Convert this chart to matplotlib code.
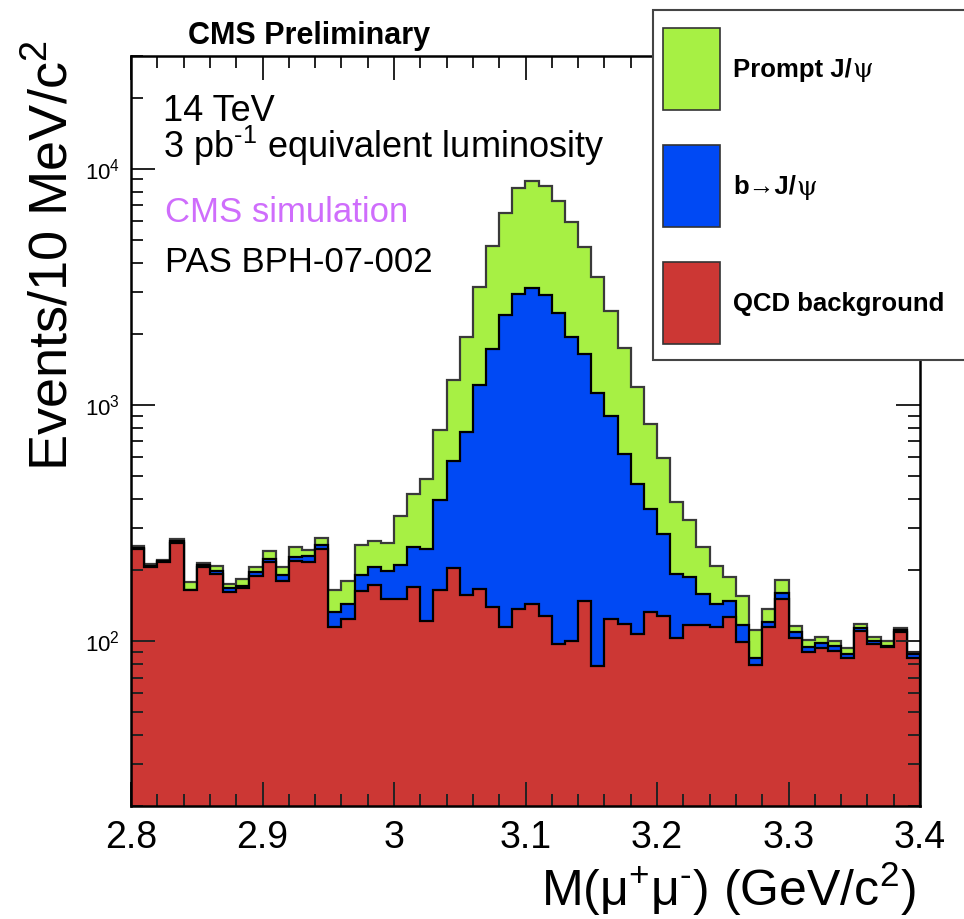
import numpy as np
import matplotlib.pyplot as plt
from matplotlib.patches import Rectangle
from matplotlib.ticker import MultipleLocator, LogLocator, NullFormatter, FuncFormatter

plt.rcParams['font.family'] = ['Liberation Sans', 'DejaVu Sans']
plt.rcParams['mathtext.fontset'] = 'custom'
plt.rcParams['mathtext.rm'] = 'Liberation Sans'
plt.rcParams['mathtext.it'] = 'Liberation Sans:italic'
plt.rcParams['mathtext.bf'] = 'Liberation Sans:bold'

W, H = 964, 919

# dimuon mass window, 10 MeV bins
mass_lo, mass_hi, n_bins = 2.8, 3.4, 60

# events per bin for each sample
qcd = [245, 206, 215, 260, 164, 206, 193, 161, 167, 188,
       215, 179, 219, 215, 246, 115, 124, 163, 172, 151,
       151, 170, 121, 165, 203, 156, 166, 139, 115, 136,
       143, 127, 97, 100, 148, 78, 124, 118, 107, 133,
       127, 103, 117, 117, 115, 126, 99, 79, 115, 151,
       103, 90, 93, 91, 85, 110, 97, 94, 109, 84.5]
b_jpsi = [3, 2, 2, 5, 1, 3, 5, 6, 4, 8,
          7, 12, 7, 14, 10, 17, 20, 28, 34, 47,
          59, 79, 123, 230, 374, 611, 1043, 1578, 2274, 2817,
          2987, 2777, 2348, 1836, 1498, 1049, 773, 498, 353, 228,
          156, 90, 70, 41, 28, 21, 18, 6, 5, 8,
          6, 4, 5, 4, 3, 4, 3, 1.5, 2, 3.5]
prompt = [5, 3, 3, 6, 12, 5, 10, 8, 12, 10,
          19, 15, 24, 14, 17, 33, 36, 64, 60, 63,
          128, 172, 239, 390, 693, 1169, 1941, 2977, 4106, 5302,
          5710, 5571, 4830, 3994, 3031, 2343, 1596, 1123, 729, 466,
          313, 193, 138, 92, 65, 40, 38, 26, 17, 22,
          7, 7, 6, 5, 5, 4, 4, 4.5, 2.5, 2]

labels = ['Prompt J/', 'b→J/', 'QCD background']
label_psi = [True, True, False]
colors = ['#a7f044', '#0049f4', '#cc3734']
edge_colors = ['#3a3a3a', 'black', 'black']

edges = np.linspace(mass_lo, mass_hi, n_bins + 1)
red = np.array(qcd, float)
blue = red + np.array(b_jpsi)
green = blue + np.array(prompt)


def fx(x):
    return x / W


def fy(y):
    return 1 - y / H


fig = plt.figure(figsize=(W / 100, H / 100), dpi=100)
ax = fig.add_axes([fx(131), fy(806), (920 - 131) / W, (806 - 56) / H])
ax.set_yscale('log')

# stacked: draw the cumulative sums from the top layer down
for vals, c, ec in zip([green, blue, red], colors, edge_colors):
    ax.stairs(vals, edges, baseline=1, fill=True, facecolor=c,
              edgecolor=ec, linewidth=1.6)

ax.set_xlim(mass_lo, mass_hi)
ax.set_ylim(20, 30000)

ax.xaxis.set_major_locator(MultipleLocator(0.1))
ax.xaxis.set_minor_locator(MultipleLocator(0.02))
ax.xaxis.set_major_formatter(FuncFormatter(lambda v, p: '%g' % round(v, 2)))
ax.yaxis.set_major_locator(LogLocator(base=10))
ax.yaxis.set_minor_locator(LogLocator(base=10, subs=np.arange(2, 10)))
ax.yaxis.set_minor_formatter(NullFormatter())

ax.tick_params(which='both', direction='in', top=True, right=True, width=1.4, color='#222')
ax.tick_params(which='major', length=17)
ax.tick_params(which='minor', length=8.5)
ax.tick_params(axis='x', labelsize=27, pad=10)
ax.tick_params(axis='y', labelsize=16, pad=8)
for s in ax.spines.values():
    s.set_linewidth(1.8)

fig.text(fx(916), fy(906), r'M(μ$^{+}$μ$^{\text{-}}$) (GeV/c$^{2}$)', ha='right', va='baseline', fontsize=36)
fig.text(fx(53), fy(40), 'Events/10 MeV/c$^{2}$', rotation=90, ha='center', va='top', fontsize=39)

fig.text(fx(188), fy(44), 'CMS Preliminary', ha='left', va='baseline', fontsize=22, fontweight='bold')

# the two tight lines as one text block (anchored on the last baseline)
fig.text(fx(163), fy(158), '14 TeV\n' + r'3 pb$^{\text{-1}}$ equivalent luminosity',
         ha='left', va='baseline', fontsize=26, linespacing=0.86)
fig.text(fx(165), fy(222), 'CMS simulation', ha='left', va='baseline', fontsize=25, color='#cf6dfc')
fig.text(fx(165), fy(272), 'PAS BPH-07-002', ha='left', va='baseline', fontsize=25)

# legend box, partly outside the frame like the original
fig.add_artist(Rectangle((fx(653), fy(360)), (990 - 653) / W, 350 / H, transform=fig.transFigure,
                         facecolor='white', edgecolor='#444', linewidth=1.5, zorder=5))
box_tops = [28, 145, 262]
for lab, psi, c, top in zip(labels, label_psi, colors, box_tops):
    fig.add_artist(Rectangle((fx(663), fy(top + 82)), 57 / W, 82 / H, transform=fig.transFigure,
                             facecolor=c, edgecolor='#333', linewidth=1.2, zorder=6))
    t = fig.text(fx(733), fy(top + 42), lab, ha='left', va='center', fontsize=18.5,
                 fontweight='bold', zorder=7)
    if psi:
        # psi drawn in a lighter serif face, as in the original
        fig.canvas.draw()
        bb = t.get_window_extent()
        fig.text(bb.x1 / W + 0.001, fy(top + 42), 'ψ', ha='left', va='center', fontsize=19,
                 family=['DejaVu Serif'], zorder=7)

fig.savefig('out.png', dpi=100)
